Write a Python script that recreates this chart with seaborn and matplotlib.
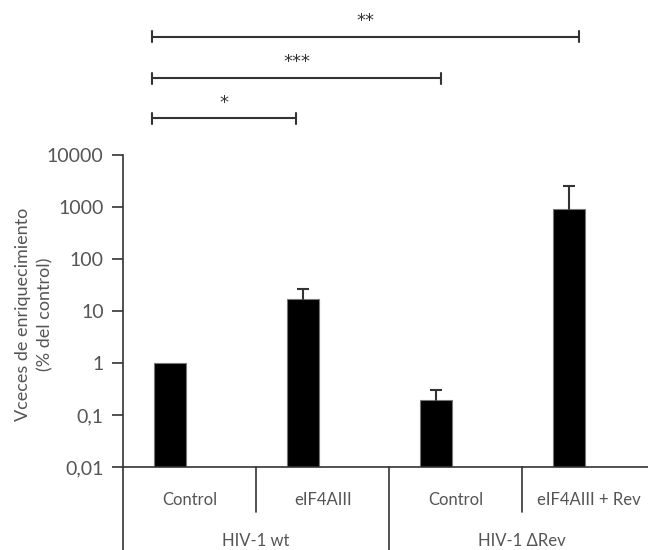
import matplotlib
matplotlib.use('Agg')
import matplotlib.pyplot as plt
import matplotlib.transforms as mtransforms
import numpy as np
import pandas as pd
import seaborn as sns

# Datos
condiciones = ['Control', 'eIF4AIII', 'Control', 'eIF4AIII + Rev']
grupos = ['HIV-1 wt', 'HIV-1 \u0394Rev']
valores = [1.0, 16.8, 0.195, 900]
error_sup = [0, 10, 0.105, 1650]
ticks_y = [0.01, 0.1, 1, 10, 100, 1000, 10000]
etiquetas_y = ['0,01', '0,1', '1', '10', '100', '1000', '10000']

# comparaciones (indice inicio, indice fin, texto)
comparaciones = [(0, 1, '*'), (0, 2, '***'), (0, 3, '**')]

# las barras estan algo desplazadas a la izquierda de cada categoria
desplazamiento = -0.15
pos = np.arange(len(valores)) + desplazamiento
df = pd.DataFrame({'pos': pos, 'valor': valores})

sns.set_style('white')
plt.rcParams['font.family'] = ['Lato', 'DejaVu Sans']
gris = '#555555'
oscuro = '#333333'

fig = plt.figure(figsize=(6.48, 5.5), dpi=100)
ax = fig.add_axes([0.19, 0.151, 0.81, 0.567])

sns.barplot(data=df, x='pos', y='valor', native_scale=True, color='black', width=0.24,
            edgecolor='#777777', linewidth=0.8, saturation=1, ax=ax)
ax.set_yscale('log')
ax.set_ylim(0.01, 10000)
ax.set_xlim(-0.5, 3.447)

# barras de error (solo hacia arriba, sin tope inferior)
for x, v, e in zip(pos, valores, error_sup):
    if e > 0:
        ax.plot([x, x], [v, v + e], color=oscuro, lw=1.5, zorder=3)
        ax.plot([x], [v + e], marker='_', markersize=8, mew=1.5, color=oscuro, zorder=3)

ax.set_yticks(ticks_y)
ax.set_yticklabels(etiquetas_y, fontsize=14, color=gris)
ax.yaxis.set_minor_locator(matplotlib.ticker.NullLocator())
ax.tick_params(axis='y', length=8, width=1.2, color=oscuro, direction='out', left=True, pad=6)
ax.set_xticks(range(4))
ax.set_xticklabels(condiciones, fontsize=12, color=gris)
ax.tick_params(axis='x', length=0, pad=18)
ax.set_xlabel('')
ax.set_ylabel('Vceces de enriquecimiento\n(% del control)', fontsize=13, color=gris,
              linespacing=1.45)
ax.yaxis.set_label_coords(-0.133, 0.49)

for s in ['top', 'right']:
    ax.spines[s].set_visible(False)
for s in ['left', 'bottom']:
    ax.spines[s].set_color(oscuro)
    ax.spines[s].set_linewidth(1.2)

# lineas divisorias bajo el eje
trans = mtransforms.blended_transform_factory(ax.transData, ax.transAxes)
for xpos, ybajo in [(-0.5, -0.27), (0.5, -0.144), (1.5, -0.27), (2.5, -0.144)]:
    ax.plot([xpos, xpos], [0, ybajo], color=oscuro, lw=1.2, transform=trans, clip_on=False)
for j, g in enumerate(grupos):
    ax.text(0.5 + 2 * j, -0.237, g, transform=trans, ha='center', va='center',
            fontsize=12, color=gris)

# corchetes de significancia
trans_f = mtransforms.blended_transform_factory(ax.transData, fig.transFigure)
inicio = {0: -0.282}
fin = {1: 0.80, 2: 1.89, 3: 2.93}
alturas = {1: 0.785, 2: 0.858, 3: 0.933}
for a, b, txt in comparaciones:
    x0, x1, y = inicio[a], fin[b], alturas[b]
    ax.plot([x0, x1], [y, y], color=oscuro, lw=1.5, transform=trans_f, clip_on=False)
    for xx in (x0, x1):
        ax.plot([xx, xx], [y - 0.01, y + 0.01], color=oscuro, lw=1.5,
                transform=trans_f, clip_on=False)
    ax.text((x0 + x1) / 2, y + 0.012, txt, transform=trans_f, ha='center',
            va='bottom', fontsize=13, color=oscuro, family=['DejaVu Sans'])

fig.savefig('out.png', dpi=100)
